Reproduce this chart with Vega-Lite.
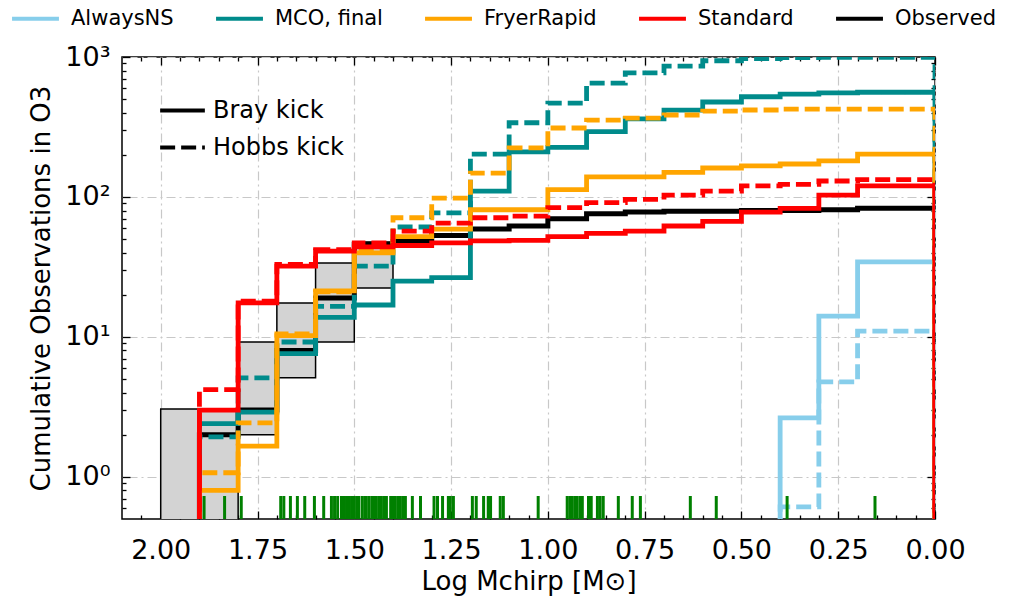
{
"$schema": "https://vega.github.io/schema/vega-lite/v6.json",
"width": 813, "height": 462,
"autosize": {"type": "none"},
"padding": {"left": 122, "top": 57, "right": 80, "bottom": 82},
"background": "white",
"config": {
 "font": "DejaVu Sans",
 "view": {"stroke": "black", "strokeWidth": 1.5},
 "axis": {"domain": false, "labelColor": "black", "titleColor": "black", "tickColor": "black", "labelFont": "DejaVu Sans", "titleFont": "DejaVu Sans", "titleFontWeight": "normal", "labelFontSize": 27, "titleFontSize": 26, "tickWidth": 1.3, "labelFlush": false},
 "legend": {"labelFont": "DejaVu Sans", "labelColor": "black", "padding": 0}
},
"datasets": {
 "boxes": [
  {"x": 2.0, "x2": 1.9, "lo": 0.1, "hi": 3.06},
  {"x": 1.9, "x2": 1.8, "lo": 0.1, "hi": 3.0},
  {"x": 1.8, "x2": 1.7, "lo": 2.0, "hi": 9.2},
  {"x": 1.7, "x2": 1.6, "lo": 5.1, "hi": 17.5},
  {"x": 1.6, "x2": 1.5, "lo": 9.2, "hi": 33.8},
  {"x": 1.5, "x2": 1.4, "lo": 22.4, "hi": 47.6}
 ],
 "obs": [
  {"m":"Observed","x":1.9001,"y":0.1},
  {"m":"Observed","x":0.1,"y":83},{"m":"Observed","x":0.2,"y":83},{"m":"Observed","x":0.3,"y":81},{"m":"Observed","x":0.4,"y":80},{"m":"Observed","x":0.5,"y":80},{"m":"Observed","x":0.6,"y":79},{"m":"Observed","x":0.7,"y":79},{"m":"Observed","x":0.8,"y":78},{"m":"Observed","x":0.9,"y":76},{"m":"Observed","x":1.0,"y":70},{"m":"Observed","x":1.1,"y":62},{"m":"Observed","x":1.2,"y":59},{"m":"Observed","x":1.3,"y":53},{"m":"Observed","x":1.4,"y":48},{"m":"Observed","x":1.5,"y":46},{"m":"Observed","x":1.6,"y":19},{"m":"Observed","x":1.7,"y":8},{"m":"Observed","x":1.8,"y":3},{"m":"Observed","x":1.9,"y":2},
  {"m":"Observed","x":0,"y":0.1}
 ],
 "curves": [
  {"m":"AlwaysNS","k":"Hobbs kick","x":0.4001,"y":0.1},{"m":"AlwaysNS","k":"Hobbs kick","x":0.1,"y":11},{"m":"AlwaysNS","k":"Hobbs kick","x":0.2,"y":11},{"m":"AlwaysNS","k":"Hobbs kick","x":0.3,"y":4.77},{"m":"AlwaysNS","k":"Hobbs kick","x":0.4,"y":0.61},{"m":"AlwaysNS","k":"Hobbs kick","x":0,"y":0.1},
  {"m":"AlwaysNS","k":"Bray kick","x":0.4001,"y":0.1},{"m":"AlwaysNS","k":"Bray kick","x":0.1,"y":34.4},{"m":"AlwaysNS","k":"Bray kick","x":0.2,"y":34.4},{"m":"AlwaysNS","k":"Bray kick","x":0.3,"y":14.1},{"m":"AlwaysNS","k":"Bray kick","x":0.4,"y":2.64},{"m":"AlwaysNS","k":"Bray kick","x":0,"y":0.1},

  {"m":"MCO, final","k":"Hobbs kick","x":1.9001,"y":0.1},
  {"m":"MCO, final","k":"Hobbs kick","x":0.1,"y":995},{"m":"MCO, final","k":"Hobbs kick","x":0.2,"y":995},{"m":"MCO, final","k":"Hobbs kick","x":0.3,"y":995},{"m":"MCO, final","k":"Hobbs kick","x":0.4,"y":990},{"m":"MCO, final","k":"Hobbs kick","x":0.5,"y":975},{"m":"MCO, final","k":"Hobbs kick","x":0.6,"y":940},{"m":"MCO, final","k":"Hobbs kick","x":0.7,"y":862},{"m":"MCO, final","k":"Hobbs kick","x":0.8,"y":770},{"m":"MCO, final","k":"Hobbs kick","x":0.9,"y":651},{"m":"MCO, final","k":"Hobbs kick","x":1.0,"y":468},{"m":"MCO, final","k":"Hobbs kick","x":1.1,"y":339},{"m":"MCO, final","k":"Hobbs kick","x":1.2,"y":202},{"m":"MCO, final","k":"Hobbs kick","x":1.3,"y":77},{"m":"MCO, final","k":"Hobbs kick","x":1.4,"y":61},{"m":"MCO, final","k":"Hobbs kick","x":1.5,"y":32},{"m":"MCO, final","k":"Hobbs kick","x":1.6,"y":16.5},{"m":"MCO, final","k":"Hobbs kick","x":1.7,"y":9.2},{"m":"MCO, final","k":"Hobbs kick","x":1.8,"y":5.1},{"m":"MCO, final","k":"Hobbs kick","x":1.9,"y":1.93},
  {"m":"MCO, final","k":"Hobbs kick","x":0,"y":0.1},
  {"m":"MCO, final","k":"Bray kick","x":1.9001,"y":0.1},
  {"m":"MCO, final","k":"Bray kick","x":0.1,"y":560},{"m":"MCO, final","k":"Bray kick","x":0.2,"y":560},{"m":"MCO, final","k":"Bray kick","x":0.3,"y":555},{"m":"MCO, final","k":"Bray kick","x":0.4,"y":543},{"m":"MCO, final","k":"Bray kick","x":0.5,"y":520},{"m":"MCO, final","k":"Bray kick","x":0.6,"y":477},{"m":"MCO, final","k":"Bray kick","x":0.7,"y":417},{"m":"MCO, final","k":"Bray kick","x":0.8,"y":361},{"m":"MCO, final","k":"Bray kick","x":0.9,"y":293},{"m":"MCO, final","k":"Bray kick","x":1.0,"y":226},{"m":"MCO, final","k":"Bray kick","x":1.1,"y":210},{"m":"MCO, final","k":"Bray kick","x":1.2,"y":110},{"m":"MCO, final","k":"Bray kick","x":1.3,"y":26.5},{"m":"MCO, final","k":"Bray kick","x":1.4,"y":25},{"m":"MCO, final","k":"Bray kick","x":1.5,"y":16.9},{"m":"MCO, final","k":"Bray kick","x":1.6,"y":13.8},{"m":"MCO, final","k":"Bray kick","x":1.7,"y":7.6},{"m":"MCO, final","k":"Bray kick","x":1.8,"y":2.9},{"m":"MCO, final","k":"Bray kick","x":1.9,"y":2.4},
  {"m":"MCO, final","k":"Bray kick","x":0,"y":0.1},

  {"m":"FryerRapid","k":"Hobbs kick","x":1.9001,"y":0.1},
  {"m":"FryerRapid","k":"Hobbs kick","x":0.1,"y":424},{"m":"FryerRapid","k":"Hobbs kick","x":0.2,"y":424},{"m":"FryerRapid","k":"Hobbs kick","x":0.3,"y":424},{"m":"FryerRapid","k":"Hobbs kick","x":0.4,"y":424},{"m":"FryerRapid","k":"Hobbs kick","x":0.5,"y":418},{"m":"FryerRapid","k":"Hobbs kick","x":0.6,"y":410},{"m":"FryerRapid","k":"Hobbs kick","x":0.7,"y":385},{"m":"FryerRapid","k":"Hobbs kick","x":0.8,"y":366},{"m":"FryerRapid","k":"Hobbs kick","x":0.9,"y":354},{"m":"FryerRapid","k":"Hobbs kick","x":1.0,"y":311},{"m":"FryerRapid","k":"Hobbs kick","x":1.1,"y":224},{"m":"FryerRapid","k":"Hobbs kick","x":1.2,"y":148},{"m":"FryerRapid","k":"Hobbs kick","x":1.3,"y":98},{"m":"FryerRapid","k":"Hobbs kick","x":1.4,"y":71},{"m":"FryerRapid","k":"Hobbs kick","x":1.5,"y":41},{"m":"FryerRapid","k":"Hobbs kick","x":1.6,"y":21},{"m":"FryerRapid","k":"Hobbs kick","x":1.7,"y":10.5},{"m":"FryerRapid","k":"Hobbs kick","x":1.8,"y":2.43},{"m":"FryerRapid","k":"Hobbs kick","x":1.9,"y":1.07},
  {"m":"FryerRapid","k":"Hobbs kick","x":0,"y":0.1},
  {"m":"FryerRapid","k":"Bray kick","x":1.9001,"y":0.1},
  {"m":"FryerRapid","k":"Bray kick","x":0.1,"y":202},{"m":"FryerRapid","k":"Bray kick","x":0.2,"y":202},{"m":"FryerRapid","k":"Bray kick","x":0.3,"y":181},{"m":"FryerRapid","k":"Bray kick","x":0.4,"y":172},{"m":"FryerRapid","k":"Bray kick","x":0.5,"y":167},{"m":"FryerRapid","k":"Bray kick","x":0.6,"y":161},{"m":"FryerRapid","k":"Bray kick","x":0.7,"y":150},{"m":"FryerRapid","k":"Bray kick","x":0.8,"y":139},{"m":"FryerRapid","k":"Bray kick","x":0.9,"y":139},{"m":"FryerRapid","k":"Bray kick","x":1.0,"y":113},{"m":"FryerRapid","k":"Bray kick","x":1.1,"y":81},{"m":"FryerRapid","k":"Bray kick","x":1.2,"y":81},{"m":"FryerRapid","k":"Bray kick","x":1.3,"y":59},{"m":"FryerRapid","k":"Bray kick","x":1.4,"y":52},{"m":"FryerRapid","k":"Bray kick","x":1.5,"y":39.8},{"m":"FryerRapid","k":"Bray kick","x":1.6,"y":21.3},{"m":"FryerRapid","k":"Bray kick","x":1.7,"y":10.2},{"m":"FryerRapid","k":"Bray kick","x":1.8,"y":1.66},{"m":"FryerRapid","k":"Bray kick","x":1.9,"y":0.8},
  {"m":"FryerRapid","k":"Bray kick","x":0,"y":0.1},

  {"m":"Standard","k":"Hobbs kick","x":1.9001,"y":0.1},
  {"m":"Standard","k":"Hobbs kick","x":0.1,"y":133},{"m":"Standard","k":"Hobbs kick","x":0.2,"y":133},{"m":"Standard","k":"Hobbs kick","x":0.3,"y":130},{"m":"Standard","k":"Hobbs kick","x":0.4,"y":123},{"m":"Standard","k":"Hobbs kick","x":0.5,"y":120},{"m":"Standard","k":"Hobbs kick","x":0.6,"y":110},{"m":"Standard","k":"Hobbs kick","x":0.7,"y":103},{"m":"Standard","k":"Hobbs kick","x":0.8,"y":96},{"m":"Standard","k":"Hobbs kick","x":0.9,"y":91},{"m":"Standard","k":"Hobbs kick","x":1.0,"y":84},{"m":"Standard","k":"Hobbs kick","x":1.1,"y":73},{"m":"Standard","k":"Hobbs kick","x":1.2,"y":71},{"m":"Standard","k":"Hobbs kick","x":1.3,"y":65},{"m":"Standard","k":"Hobbs kick","x":1.4,"y":57},{"m":"Standard","k":"Hobbs kick","x":1.5,"y":47},{"m":"Standard","k":"Hobbs kick","x":1.6,"y":42},{"m":"Standard","k":"Hobbs kick","x":1.7,"y":33},{"m":"Standard","k":"Hobbs kick","x":1.8,"y":18},{"m":"Standard","k":"Hobbs kick","x":1.9,"y":4.2},
  {"m":"Standard","k":"Hobbs kick","x":0,"y":0.1},
  {"m":"Standard","k":"Bray kick","x":1.9001,"y":0.1},
  {"m":"Standard","k":"Bray kick","x":0.1,"y":120},{"m":"Standard","k":"Bray kick","x":0.2,"y":120},{"m":"Standard","k":"Bray kick","x":0.3,"y":103},{"m":"Standard","k":"Bray kick","x":0.4,"y":83},{"m":"Standard","k":"Bray kick","x":0.5,"y":78},{"m":"Standard","k":"Bray kick","x":0.6,"y":67},{"m":"Standard","k":"Bray kick","x":0.7,"y":62},{"m":"Standard","k":"Bray kick","x":0.8,"y":57},{"m":"Standard","k":"Bray kick","x":0.9,"y":55},{"m":"Standard","k":"Bray kick","x":1.0,"y":52},{"m":"Standard","k":"Bray kick","x":1.1,"y":49},{"m":"Standard","k":"Bray kick","x":1.2,"y":48.5},{"m":"Standard","k":"Bray kick","x":1.3,"y":47},{"m":"Standard","k":"Bray kick","x":1.4,"y":45},{"m":"Standard","k":"Bray kick","x":1.5,"y":44},{"m":"Standard","k":"Bray kick","x":1.6,"y":41},{"m":"Standard","k":"Bray kick","x":1.7,"y":32},{"m":"Standard","k":"Bray kick","x":1.8,"y":17.5},{"m":"Standard","k":"Bray kick","x":1.9,"y":3},
  {"m":"Standard","k":"Bray kick","x":0,"y":0.1}
 ],
 "rug": [
  {"x":1.888},{"x":1.835},{"x":1.792},{"x":1.690},{"x":1.682},{"x":1.665},{"x":1.647},{"x":1.628},{"x":1.603},{"x":1.579},
  {"x":1.559},{"x":1.551},{"x":1.543},
  {"x":1.533},{"x":1.526},{"x":1.520},{"x":1.513},{"x":1.507},{"x":1.501},{"x":1.494},{"x":1.488},
  {"x":1.479},{"x":1.471},{"x":1.463},
  {"x":1.455},{"x":1.449},{"x":1.443},{"x":1.436},{"x":1.430},{"x":1.423},{"x":1.417},
  {"x":1.406},{"x":1.400},{"x":1.394},{"x":1.387},{"x":1.381},{"x":1.374},{"x":1.368},
  {"x":1.350},{"x":1.329},
  {"x":1.294},{"x":1.285},{"x":1.272},{"x":1.257},{"x":1.252},{"x":1.244},
  {"x":1.195},{"x":1.185},{"x":1.166},{"x":1.154},{"x":1.148},{"x":1.123},{"x":1.115},
  {"x":1.025},
  {"x":0.950},{"x":0.943},{"x":0.937},{"x":0.930},{"x":0.924},{"x":0.916},{"x":0.911},
  {"x":0.895},{"x":0.888},{"x":0.872},{"x":0.865},{"x":0.857},
  {"x":0.818},{"x":0.782},{"x":0.761},{"x":0.632},{"x":0.565},{"x":0.382},{"x":0.155}
 ]
},
"layer": [
 {
  "data": {"name": "boxes"},
  "mark": {"type": "rect", "fill": "#d3d3d3", "stroke": "black", "strokeWidth": 1.5, "clip": true},
  "encoding": {
   "x": {"field": "x", "type": "quantitative",
         "scale": {"domain": [0, 2.1], "reverse": true, "nice": false, "zero": false},
         "axis": {"orient": "bottom", "values": [0, 0.25, 0.5, 0.75, 1, 1.25, 1.5, 1.75, 2], "format": ".2f", "tickSize": -8, "labelPadding": 26, "grid": true, "gridDash": [9, 4, 2, 4], "gridColor": "#c8c8c8", "gridWidth": 1.2, "title": "Log Mchirp [M⊙]", "titlePadding": 5}},
   "x2": {"field": "x2"},
   "y": {"field": "lo", "type": "quantitative",
         "scale": {"type": "log", "domain": [0.5, 1000], "nice": false},
         "axis": {"orient": "left", "values": [1, 10, 100, 1000], "labelExpr": "datum.value == 1 ? '10⁰' : datum.value == 10 ? '10¹' : datum.value == 100 ? '10²' : '10³'", "tickSize": -8, "labelPadding": 20, "grid": true, "gridDash": [9, 4, 2, 4], "gridColor": "#c8c8c8", "gridWidth": 1.2, "title": "Cumulative Observations in O3", "titlePadding": 10}},
   "y2": {"field": "hi"}
  }
 },
 {
  "data": {"name": "obs"},
  "mark": {"type": "line", "interpolate": "step-after", "strokeWidth": 5, "clip": true},
  "encoding": {
   "x": {"field": "x", "type": "quantitative",
         "axis": {"orient": "top", "values": [0, 0.25, 0.5, 0.75, 1, 1.25, 1.5, 1.75, 2], "labels": false, "tickSize": -8, "grid": false, "title": null}},
   "y": {"field": "y", "type": "quantitative",
         "axis": {"orient": "right", "values": [1, 10, 100, 1000], "labels": false, "tickSize": -8, "grid": false, "title": null}},
   "color": {"field": "m", "type": "nominal",
             "scale": {"domain": ["AlwaysNS", "MCO, final", "FryerRapid", "Standard", "Observed"], "range": ["#87ceeb", "#008b8b", "#ffa500", "#ff0000", "#000000"]},
             "legend": {"orient": "none", "legendX": -112, "legendY": -64, "direction": "horizontal", "title": null, "symbolType": "stroke", "symbolStrokeWidth": 4, "symbolSize": 2200, "labelFontSize": 21, "columnPadding": 34, "labelOffset": 10}}
  }
 },
 {
  "data": {"name": "curves"},
  "mark": {"type": "line", "interpolate": "step-after", "strokeWidth": 4.8, "clip": true},
  "encoding": {
   "x": {"field": "x", "type": "quantitative",
         "axis": {"orient": "bottom", "values": [0.05, 0.1, 0.15, 0.2, 0.3, 0.35, 0.4, 0.45, 0.55, 0.6, 0.65, 0.7, 0.8, 0.85, 0.9, 0.95, 1.05, 1.1, 1.15, 1.2, 1.3, 1.35, 1.4, 1.45, 1.55, 1.6, 1.65, 1.7, 1.8, 1.85, 1.9, 1.95, 2.05], "labels": false, "tickSize": -4, "grid": false, "title": null}},
   "y": {"field": "y", "type": "quantitative",
         "axis": {"orient": "left", "values": [0.6, 0.7, 0.8, 0.9, 2, 3, 4, 5, 6, 7, 8, 9, 20, 30, 40, 50, 60, 70, 80, 90, 200, 300, 400, 500, 600, 700, 800, 900], "labels": false, "tickSize": -4, "grid": false, "title": null}},
   "color": {"field": "m", "type": "nominal",
             "legend": {"orient": "none", "legendX": -112, "legendY": -64, "direction": "horizontal", "title": null, "symbolType": "stroke", "symbolStrokeWidth": 4, "symbolSize": 2200, "labelFontSize": 21, "columnPadding": 34, "labelOffset": 10}},
   "strokeDash": {"field": "k", "type": "nominal",
                  "scale": {"domain": ["Bray kick", "Hobbs kick"], "range": [[1, 0], [15, 6]]},
                  "legend": {"orient": "none", "legendX": 36, "legendY": 29, "title": null, "symbolType": "stroke", "symbolStrokeColor": "black", "symbolStrokeWidth": 4, "symbolSize": 2000, "labelFontSize": 24, "rowPadding": -13, "labelOffset": 6}}
  }
 },
 {
  "data": {"name": "rug"},
  "mark": {"type": "rule", "color": "#008000", "strokeWidth": 3},
  "encoding": {
   "x": {"field": "x", "type": "quantitative",
         "axis": {"orient": "top", "values": [0.05, 0.1, 0.15, 0.2, 0.3, 0.35, 0.4, 0.45, 0.55, 0.6, 0.65, 0.7, 0.8, 0.85, 0.9, 0.95, 1.05, 1.1, 1.15, 1.2, 1.3, 1.35, 1.4, 1.45, 1.55, 1.6, 1.65, 1.7, 1.8, 1.85, 1.9, 1.95, 2.05], "labels": false, "tickSize": -4, "grid": false, "title": null}},
   "y": {"datum": 0.5, "type": "quantitative",
         "axis": {"orient": "right", "values": [0.6, 0.7, 0.8, 0.9, 2, 3, 4, 5, 6, 7, 8, 9, 20, 30, 40, 50, 60, 70, 80, 90, 200, 300, 400, 500, 600, 700, 800, 900], "labels": false, "tickSize": -4, "grid": false, "title": null}},
   "y2": {"datum": 0.73}
  }
 }
],
"resolve": {"scale": {"x": "shared", "y": "shared"}, "axis": {"x": "independent", "y": "independent"}}
}
